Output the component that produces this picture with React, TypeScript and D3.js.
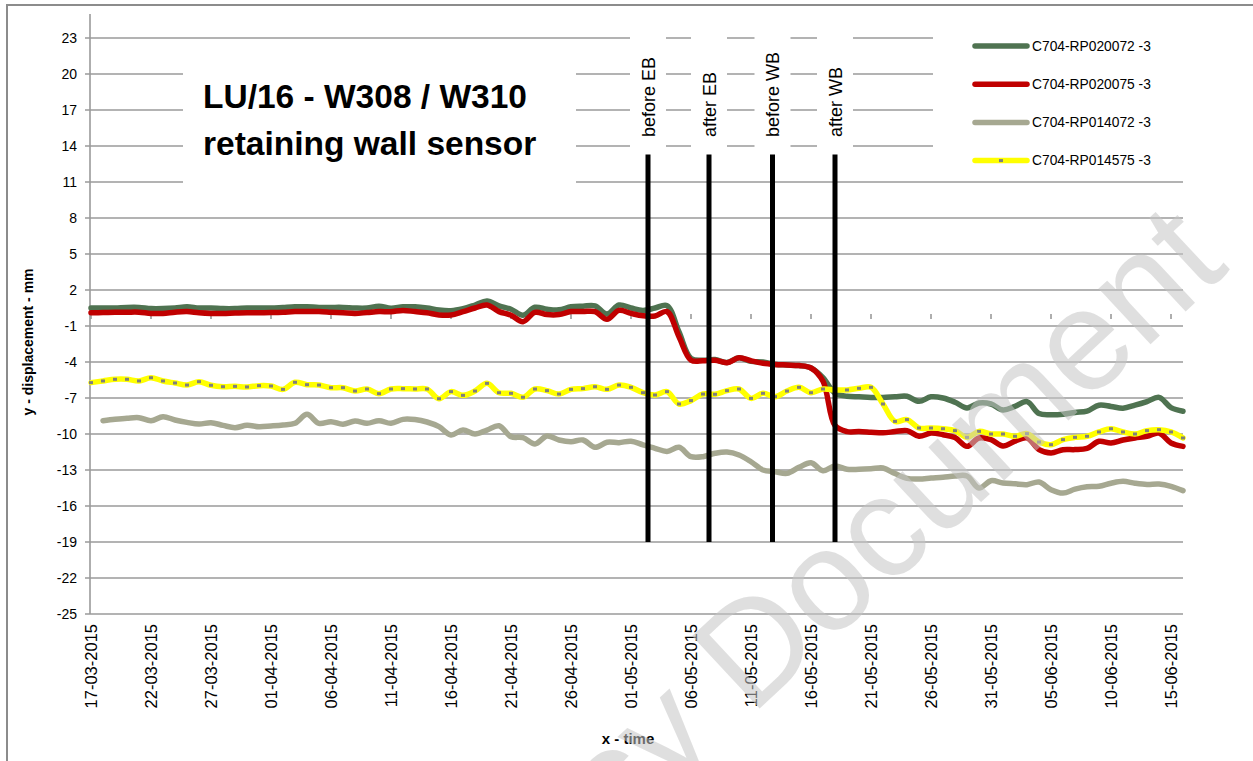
import React, { useRef, useEffect } from 'react';
import * as d3 from 'd3';

// daily readings, first day 17-03-2015
const startDay = '2015-03-17';

const green = [
  0.5, 0.5, 0.5, 0.55, 0.55, 0.45, 0.45, 0.5, 0.6, 0.5,
  0.5, 0.45, 0.45, 0.5, 0.5, 0.5, 0.55, 0.6, 0.6, 0.55,
  0.55, 0.55, 0.5, 0.5, 0.65, 0.47, 0.6, 0.6, 0.5, 0.33,
  0.28, 0.45, 0.75, 1.08, 0.67, 0.4, -0.1, 0.56, 0.4, 0.35,
  0.6, 0.65, 0.67, 0.0, 0.75, 0.5, 0.3, 0.5, 0.7, -1.5,
  -3.7, -3.85, -3.8, -4.05, -3.65, -3.95, -4.0, -4.2, -4.25, -4.3,
  -4.5, -5.3, -6.6, -6.85, -6.9, -6.95, -6.95, -6.9, -6.86, -7.28,
  -6.9, -7.0, -7.35, -7.83, -7.42, -7.5, -8.0, -7.7, -7.3, -8.3,
  -8.4, -8.35, -8.2, -8.1, -7.6, -7.7, -7.85, -7.6, -7.3, -6.95,
  -7.8, -8.1,
];

const red = [
  0.1, 0.12, 0.15, 0.15, 0.15, 0.05, 0.05, 0.15, 0.2, 0.1,
  0.05, 0.05, 0.08, 0.1, 0.1, 0.12, 0.15, 0.2, 0.2, 0.2,
  0.15, 0.1, 0.05, 0.12, 0.2, 0.19, 0.3, 0.2, 0.1, -0.08,
  -0.08, 0.2, 0.5, 0.75, 0.2, -0.1, -0.64, 0.14, -0.05, -0.05,
  0.2, 0.2, 0.2, -0.44, 0.3, 0.05, -0.15, -0.17, 0.2, -1.9,
  -3.85, -3.9, -3.85, -4.06, -3.65, -3.9, -4.1, -4.2, -4.25, -4.3,
  -4.5, -5.6, -9.3, -9.8, -9.8, -9.85, -9.9, -9.8, -9.72, -10.19,
  -9.92, -10.06, -10.3, -11.03, -10.33, -10.47, -11.0, -10.6, -10.33, -11.3,
  -11.58, -11.31, -11.3, -11.2, -10.61, -10.75, -10.5, -10.33, -10.19, -9.92,
  -10.75, -11.03,
];

const grey = [
  null, -8.89, -8.78, -8.69, -8.64, -8.89, -8.56, -8.83, -9.03, -9.17,
  -9.06, -9.28, -9.47, -9.28, -9.39, -9.33, -9.25, -9.11, -8.36, -9.11,
  -8.97, -9.19, -8.92, -9.11, -8.89, -9.11, -8.78, -8.8, -9.0, -9.39,
  -10.08, -9.67, -10.0, -9.67, -9.31, -10.22, -10.31, -10.83, -10.17, -10.5,
  -10.64, -10.5, -11.11, -10.69, -10.72, -10.6, -10.9, -11.19, -11.45, -11.11,
  -11.89, -11.89, -11.61, -11.5, -11.75, -12.31, -13.0, -13.14, -13.28, -12.78,
  -12.39, -13.06, -12.67, -12.94, -12.94, -12.9, -12.83, -13.3, -13.7, -13.75,
  -13.67, -13.6, -13.5, -13.5, -14.5, -13.89, -14.08, -14.15, -14.22, -14.0,
  -14.64, -14.92, -14.6, -14.4, -14.36, -14.1, -13.94, -14.1, -14.2, -14.17,
  -14.36, -14.72,
];

const yellow = [
  -5.72, -5.58, -5.44, -5.44, -5.58, -5.31, -5.58, -5.75, -5.92, -5.64,
  -5.94, -6.06, -6.03, -6.08, -5.97, -6.0, -6.28, -5.69, -5.89, -5.92,
  -6.14, -6.14, -6.42, -6.25, -6.64, -6.25, -6.22, -6.25, -6.25, -7.06,
  -6.47, -6.78, -6.42, -5.78, -6.56, -6.61, -6.94, -6.25, -6.39, -6.67,
  -6.28, -6.22, -6.06, -6.28, -5.92, -6.11, -6.56, -6.75, -6.47, -7.5,
  -7.22, -6.67, -6.69, -6.39, -6.25, -7.03, -6.61, -6.89, -6.42, -6.11,
  -6.56, -6.25, -6.33, -6.33, -6.19, -6.11, -7.5, -8.95, -8.8, -9.5,
  -9.5, -9.56, -9.72, -10.28, -9.78, -10.0, -10.0, -10.19, -9.97, -10.67,
  -10.89, -10.47, -10.28, -10.19, -9.83, -9.56, -9.83, -10.0, -9.72, -9.64,
  -9.83, -10.33,
];

const seriesNames = ['C704-RP020072 -3', 'C704-RP020075 -3', 'C704-RP014072 -3', 'C704-RP014575 -3'];
const seriesColors = ['#4f7351', '#c00000', '#a6a891', '#ffff00'];

const xTickLabels = [
  '17-03-2015', '22-03-2015', '27-03-2015', '01-04-2015', '06-04-2015', '11-04-2015', '16-04-2015',
  '21-04-2015', '26-04-2015', '01-05-2015', '06-05-2015', '11-05-2015', '16-05-2015', '21-05-2015',
  '26-05-2015', '31-05-2015', '05-06-2015', '10-06-2015', '15-06-2015',
];
const yTicks = [23, 20, 17, 14, 11, 8, 5, 2, -1, -4, -7, -10, -13, -16, -19, -22, -25];

const eventLabels = ['before EB', 'after EB', 'before WB', 'after WB'];
const eventTimes = ['2015-05-02 10:00', '2015-05-07 12:00', '2015-05-12 19:00', '2015-05-18 00:00'];
const eventSpan = [13.3, -19];

const W = 1253;
const H = 761;
const FONT = '"Liberation Sans", Arial, sans-serif';

const App: React.FC = () => {
  const svgRef = useRef<SVGSVGElement>(null);

  useEffect(() => {
    if (!svgRef.current) return;
    const svg = d3.select(svgRef.current);
    svg.selectAll('*').remove();

    const start = d3.timeParse('%Y-%m-%d')(startDay)!;
    const dates = d3.timeDay.range(start, d3.timeDay.offset(start, green.length));
    const parseTick = d3.timeParse('%d-%m-%Y');
    const parseEvent = d3.timeParse('%Y-%m-%d %H:%M');

    const x = d3.scaleTime()
      .domain([dates[0], dates[dates.length - 1]])
      .range([91, 1183]);
    const y = d3.scaleLinear().domain([-25, 25]).range([614, 14]);

    svg.append('rect').attr('width', W).attr('height', H).attr('fill', '#fff');
    // chart border
    svg.append('rect')
      .attr('x', 7).attr('y', 5).attr('width', 1300).attr('height', 820)
      .attr('fill', 'none').attr('stroke', '#8c8c8c').attr('stroke-width', 2);

    // gridlines + y axis
    svg.selectAll('line.grid')
      .data(yTicks)
      .enter()
      .append('line')
      .attr('class', 'grid')
      .attr('x1', 85).attr('x2', 1183)
      .attr('y1', d => y(d)).attr('y2', d => y(d))
      .attr('stroke', '#9a9a9a').attr('stroke-width', 1.6);

    svg.append('line')
      .attr('x1', 90).attr('x2', 90).attr('y1', y(25)).attr('y2', y(-25))
      .attr('stroke', '#9a9a9a').attr('stroke-width', 1.6);

    svg.selectAll('text.ytick')
      .data(yTicks)
      .enter()
      .append('text')
      .attr('class', 'ytick')
      .attr('x', 77).attr('y', d => y(d)).attr('dy', '0.35em')
      .attr('text-anchor', 'end')
      .attr('font-family', FONT).attr('font-size', 14).attr('fill', '#000')
      .text(d => d);

    // x ticks on the zero line, labels at the bottom
    const tickDates = xTickLabels.map(s => parseTick(s)!);
    svg.selectAll('line.xtick')
      .data(tickDates)
      .enter()
      .append('line')
      .attr('class', 'xtick')
      .attr('x1', d => x(d)).attr('x2', d => x(d))
      .attr('y1', y(0)).attr('y2', y(0) + 5)
      .attr('stroke', '#9a9a9a').attr('stroke-width', 1.6);

    svg.selectAll('text.xtick')
      .data(xTickLabels)
      .enter()
      .append('text')
      .attr('class', 'xtick')
      .attr('transform', (d, i) => `translate(${x(tickDates[i])},624) rotate(-90)`)
      .attr('dy', '0.35em')
      .attr('text-anchor', 'end')
      .attr('font-family', FONT).attr('font-size', 16.5).attr('fill', '#000')
      .text(d => d);

    // axis titles
    svg.append('text')
      .attr('transform', 'translate(28,342) rotate(-90)')
      .attr('dy', '0.35em').attr('text-anchor', 'middle')
      .attr('font-family', FONT).attr('font-size', 14).attr('font-weight', 'bold')
      .text('y - displacement - mm');
    svg.append('text')
      .attr('x', 628).attr('y', 744).attr('text-anchor', 'middle')
      .attr('font-family', FONT).attr('font-size', 15).attr('font-weight', 'bold')
      .text('x - time');

    // series
    const all = [green, red, grey, yellow];
    const line = d3.line<number | null>()
      .defined(d => d !== null)
      .x((d, i) => x(dates[i]))
      .y(d => y(d as number))
      .curve(d3.curveCatmullRom.alpha(0.5));

    all.forEach((vals, k) => {
      svg.append('path')
        .datum(vals)
        .attr('d', line)
        .attr('fill', 'none')
        .attr('stroke', seriesColors[k])
        .attr('stroke-width', 5.5)
        .attr('stroke-linejoin', 'round')
        .attr('stroke-linecap', 'round');
    });

    svg.selectAll('rect.marker')
      .data(yellow)
      .enter()
      .append('rect')
      .attr('class', 'marker')
      .attr('x', (d, i) => x(dates[i]) - 2)
      .attr('y', d => y(d) - 1.5)
      .attr('width', 4).attr('height', 3)
      .attr('fill', '#7f7f7f');

    // event markers
    const evX = eventTimes.map(s => x(parseEvent(s)!));
    svg.selectAll('line.event')
      .data(evX)
      .enter()
      .append('line')
      .attr('class', 'event')
      .attr('x1', d => d).attr('x2', d => d)
      .attr('y1', y(eventSpan[0])).attr('y2', y(eventSpan[1]))
      .attr('stroke', '#000').attr('stroke-width', 5);

    svg.selectAll('rect.evbox')
      .data(evX)
      .enter()
      .append('rect')
      .attr('class', 'evbox')
      .attr('x', d => d - 18).attr('y', 28)
      .attr('width', 36).attr('height', 122)
      .attr('fill', '#fff');

    svg.selectAll('text.event')
      .data(eventLabels)
      .enter()
      .append('text')
      .attr('class', 'event')
      .attr('transform', (d, i) => `translate(${evX[i] + 6.5},137) rotate(-90)`)
      .attr('font-family', FONT).attr('font-size', 18).attr('fill', '#000')
      .text(d => d);

    // title
    svg.append('rect').attr('x', 183).attr('y', 48).attr('width', 393).attr('height', 148).attr('fill', '#fff');
    const title = svg.append('text')
      .attr('font-family', FONT).attr('font-size', 33.5).attr('font-weight', 'bold').attr('fill', '#000');
    title.append('tspan').attr('x', 203).attr('y', 108).text('LU/16 - W308 / W310');
    title.append('tspan').attr('x', 203).attr('y', 155).text('retaining wall sensor');

    // legend
    svg.append('rect').attr('x', 933).attr('y', 26).attr('width', 262).attr('height', 146).attr('fill', '#fff');
    const lg = svg.selectAll('g.legend')
      .data(seriesNames)
      .enter()
      .append('g')
      .attr('class', 'legend')
      .attr('transform', (d, i) => `translate(0,${46 + i * 38.2})`);
    lg.append('line')
      .attr('x1', 975).attr('x2', 1027).attr('y1', 0).attr('y2', 0)
      .attr('stroke', (d, i) => seriesColors[i])
      .attr('stroke-width', 5.5).attr('stroke-linecap', 'round');
    lg.filter((d, i) => i === 3)
      .append('rect')
      .attr('x', 999).attr('y', -1.5).attr('width', 4).attr('height', 3).attr('fill', '#7f7f7f');
    lg.append('text')
      .attr('x', 1032).attr('y', 0).attr('dy', '0.35em')
      .attr('font-family', FONT).attr('font-size', 13.8).attr('fill', '#000')
      .text(d => d);

    // watermark
    svg.append('text')
      .attr('transform', 'translate(1231,269) rotate(-43)')
      .attr('text-anchor', 'end')
      .attr('font-family', FONT).attr('font-size', 144)
      .attr('fill', '#c4c4c4').attr('fill-opacity', 0.55)
      .text('cy Document');
  }, []);

  return (
    <svg
      ref={svgRef}
      width={W}
      height={H}
      style={{ position: 'absolute', left: 0, top: 0, display: 'block' }}
    />
  );
};

export default App;
